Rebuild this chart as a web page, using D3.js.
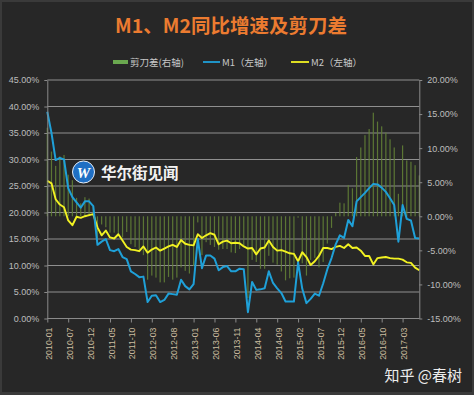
<!DOCTYPE html>
<html><head><meta charset="utf-8">
<script src="https://cdn.jsdelivr.net/npm/d3@7/dist/d3.min.js"></script>
<style>
html,body{margin:0;padding:0;background:#262626;}
svg{display:block;}
</style></head>
<body>
<svg id="chart" width="474" height="395"></svg>
<script>
const categories = [
"2010-01","2010-03","2010-04","2010-05","2010-06","2010-07","2010-08","2010-09","2010-10","2010-11","2010-12",
"2011-01","2011-02","2011-03","2011-04","2011-05","2011-06","2011-07","2011-08","2011-09","2011-10","2011-11","2011-12",
"2012-01","2012-02","2012-03","2012-04","2012-05","2012-06","2012-07","2012-08","2012-09","2012-10","2012-11","2012-12",
"2013-01","2013-02","2013-03","2013-04","2013-05","2013-06","2013-07","2013-08","2013-09","2013-10","2013-11","2013-12",
"2014-01","2014-02","2014-03","2014-04","2014-05","2014-06","2014-07","2014-08","2014-09","2014-10","2014-11","2014-12",
"2015-01","2015-02","2015-03","2015-04","2015-05","2015-06","2015-07","2015-08","2015-09","2015-10","2015-11","2015-12",
"2016-01","2016-02","2016-03","2016-04","2016-05","2016-06","2016-07","2016-08","2016-09","2016-10","2016-11","2016-12",
"2017-01","2017-02","2017-03","2017-04","2017-05","2017-06","2017-07"];

const m1 = [39.0,35.0,29.9,30.3,30.0,24.6,22.9,21.9,20.9,22.1,22.1,21.2,
13.9,14.5,15.0,12.9,12.7,13.1,11.6,11.2,8.9,8.4,7.8,7.9,
3.1,4.3,4.4,3.1,3.5,4.7,4.6,4.5,7.3,6.1,5.5,6.5,
15.0,9.5,11.9,11.9,11.3,9.1,9.7,9.9,8.9,8.9,9.4,9.3,
1.2,6.9,5.4,5.5,5.7,8.9,6.7,5.7,4.8,3.2,3.2,3.2,
10.6,5.6,2.9,3.7,4.7,4.3,6.6,9.3,11.4,14.0,15.7,15.2,
18.6,17.4,22.1,22.9,23.7,24.6,25.4,25.3,24.7,23.9,22.7,21.4,
14.5,21.4,18.8,18.5,15.2,15.1];

const m2 = [26.0,25.5,22.5,21.5,21.0,18.5,17.6,19.2,19.0,19.3,19.5,19.7,
17.2,15.7,16.6,15.3,15.1,15.9,14.7,13.5,13.0,12.9,12.7,13.6,
12.4,13.0,13.4,12.8,13.2,13.6,13.9,13.5,14.8,14.1,13.9,13.8,
15.9,15.2,15.7,16.1,15.8,14.0,14.5,14.7,14.2,14.3,14.2,13.6,
13.2,13.3,12.1,13.2,13.4,14.7,13.5,12.8,12.9,12.6,12.3,12.2,
10.8,12.5,11.6,10.1,10.8,11.8,13.3,13.3,13.1,13.5,13.7,13.3,
14.0,13.3,13.4,12.8,11.8,11.8,10.2,11.4,11.5,11.6,11.4,11.3,
11.3,11.1,10.6,10.5,9.6,9.1];

const scissors = [13.0,9.5,7.4,8.8,9.0,6.1,5.3,2.7,1.9,2.8,2.6,1.5,
-3.3,-1.2,-1.6,-2.4,-2.4,-2.8,-3.1,-2.3,-4.1,-4.5,-4.9,-5.7,
-9.3,-8.7,-9.0,-9.7,-9.7,-8.9,-9.3,-9.0,-7.5,-8.0,-8.4,-7.3,
-0.9,-5.7,-3.8,-4.2,-4.5,-4.9,-4.8,-4.8,-5.3,-5.4,-4.8,-4.3,
-12.0,-6.4,-6.7,-7.7,-7.7,-5.8,-6.8,-7.1,-8.1,-9.4,-9.1,-9.0,
-0.2,-6.9,-8.7,-6.4,-6.1,-7.5,-6.7,-4.0,-1.7,0.5,2.0,1.9,
4.6,4.1,8.7,10.1,11.9,12.8,15.2,13.9,13.2,12.3,11.3,10.1,
3.3,10.4,8.2,8.0,7.5,6.0];

const leftTicks = [0,5,10,15,20,25,30,35,40,45];
const rightTicks = [-15,-10,-5,0,5,10,15,20];
const titleText = "M1、M2同比增速及剪刀差";
const legendLabels = ["剪刀差(右轴)","M1（左轴）","M2（左轴）"];

const svg = d3.select("#chart");
const W = 474, H = 395;
const L = 47.3, R = 419.3, T = 80, B = 318.5;
const cjk = "'Noto Sans CJK SC', 'Noto Sans', sans-serif";
const num = "'Liberation Sans', Arial, sans-serif";

svg.append("rect").attr("x",0).attr("y",0).attr("width",W).attr("height",H).attr("fill","#3a3a3a");
svg.append("rect").attr("x",2).attr("y",2).attr("width",W-4).attr("height",H-5).attr("fill","#272727");

const x = d3.scalePoint().domain(categories).range([L, R]);
const yL = d3.scaleLinear().domain([0,45]).range([B, T]);
const yR = d3.scaleLinear().domain([-15,20]).range([B, T]);

// title
svg.append("text").attr("x",231).attr("y",33).attr("text-anchor","middle")
  .attr("font-family",cjk).attr("font-weight","bold").attr("font-size",19.5)
  .attr("fill","#ec7b30").text(titleText);

// legend
const lg = svg.append("g").attr("font-family",cjk).attr("font-size",9.5).attr("fill","#c8c8c8");
lg.append("rect").attr("x",113).attr("y",60).attr("width",15).attr("height",4).attr("fill","#6aa84f");
lg.append("text").attr("x",130).attr("y",65.5).text(legendLabels[0]);
lg.append("line").attr("x1",203).attr("x2",220).attr("y1",62).attr("y2",62).attr("stroke","#1fa0d8").attr("stroke-width",1.8);
lg.append("text").attr("x",222).attr("y",65.5).text(legendLabels[1]);
lg.append("line").attr("x1",291).attr("x2",309).attr("y1",62).attr("y2",62).attr("stroke","#f2f222").attr("stroke-width",1.8);
lg.append("text").attr("x",311).attr("y",65.5).text(legendLabels[2]);

// gridlines
svg.append("g").selectAll("line").data(leftTicks.filter(d=>d>0)).join("line")
  .attr("x1",L).attr("x2",R).attr("y1",d=>yL(d)).attr("y2",d=>yL(d))
  .attr("stroke","#8f8f8f").attr("stroke-width",1.1);

// bars (right axis)
svg.append("g").selectAll("rect").data(scissors).join("rect")
  .attr("x",(d,i)=>x(categories[i])-0.6).attr("width",1.2)
  .attr("y",d=>Math.min(yR(d),yR(0))).attr("height",d=>Math.abs(yR(d)-yR(0)))
  .attr("fill","#627f36").attr("opacity",0.9);

// watermark
const wm = svg.append("g");
wm.append("circle").attr("cx",83.5).attr("cy",172).attr("r",11).attr("fill","#1f6fc4").attr("stroke","#e8eef6").attr("stroke-width",1);
wm.append("text").attr("x",83.5).attr("y",177.5).attr("text-anchor","middle").attr("font-family","'Liberation Serif', serif")
  .attr("font-style","italic").attr("font-weight","bold").attr("font-size",15).attr("fill","#ffffff").text("W");
wm.append("text").attr("x",101).attr("y",178.5).attr("font-family",cjk).attr("font-weight","bold")
  .attr("font-size",15.5).attr("fill","#f2f2f2").text("华尔街见闻");

// lines
const lineGen = d3.line().x((d,i)=>x(categories[i])).y(d=>yL(d));
svg.append("path").datum(m2).attr("d",lineGen).attr("fill","none").attr("stroke","#f2f222").attr("stroke-width",1.9).attr("stroke-linejoin","round");
svg.append("path").datum(m1).attr("d",lineGen).attr("fill","none").attr("stroke","#1fa0d8").attr("stroke-width",2).attr("stroke-linejoin","round");

// axes
function styleAxis(g, color){
  g.select(".domain").attr("stroke","#8a8a8a");
  g.selectAll(".tick line").attr("stroke","#8a8a8a");
  g.selectAll("text").attr("fill",color).attr("font-family",num);
}
const axL = svg.append("g").attr("transform",`translate(${L},0)`)
  .call(d3.axisLeft(yL).tickValues(leftTicks).tickFormat(d=>d.toFixed(2)+"%").tickSize(3).tickSizeOuter(0).tickPadding(5));
styleAxis(axL,"#bdbdbd"); axL.selectAll("text").attr("font-size",9);
const axR = svg.append("g").attr("transform",`translate(${R},0)`)
  .call(d3.axisRight(yR).tickValues(rightTicks).tickFormat(d=>d.toFixed(2)+"%").tickSize(3).tickSizeOuter(0).tickPadding(5));
styleAxis(axR,"#bdbdbd"); axR.selectAll("text").attr("font-size",9);
const axB = svg.append("g").attr("transform",`translate(0,${B})`)
  .call(d3.axisBottom(x).tickValues(categories.filter((d,i)=>i%5===0)).tickSize(4).tickSizeOuter(0));
styleAxis(axB,"#cbbd9f");
axB.select(".domain").attr("d",`M${L},0H${R}`);
axB.selectAll("text").attr("font-size",8.8).attr("transform","rotate(-90)")
  .attr("text-anchor","end").attr("x",-9).attr("y",1).attr("dy","0.35em");

// credit
svg.append("text").attr("x",462).attr("y",381).attr("text-anchor","end").attr("font-family",cjk)
  .attr("font-size",15).attr("fill","#ececec").text("知乎 @春树");
</script>
</body></html>
